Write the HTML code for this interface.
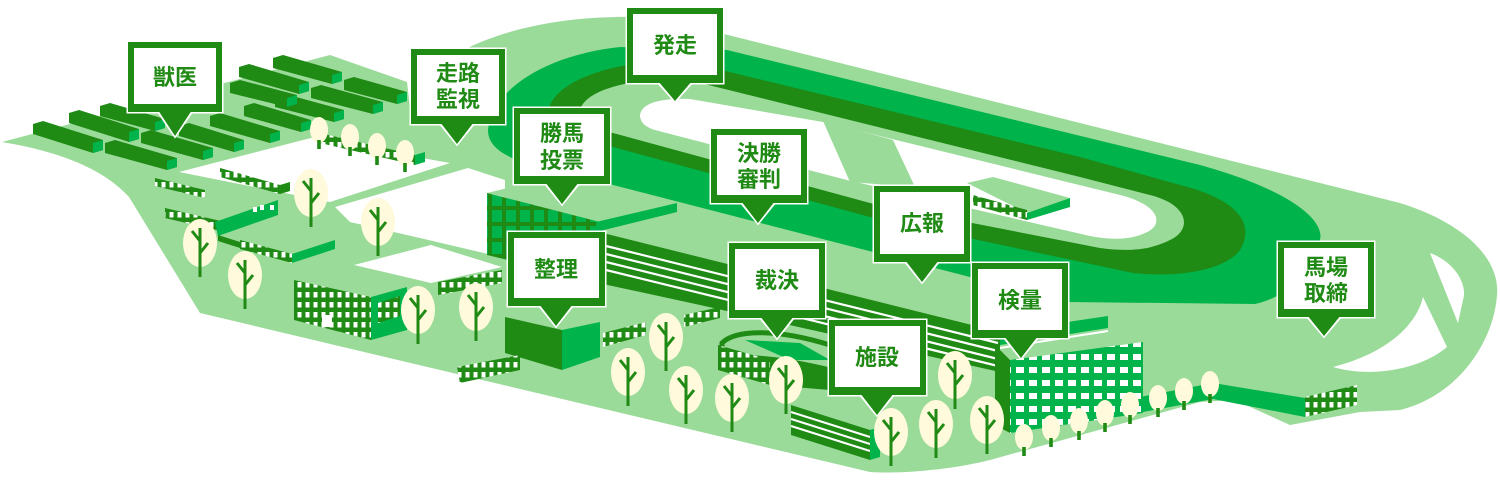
<!DOCTYPE html>
<html><head><meta charset="utf-8"><style>
html,body{margin:0;padding:0;background:#fff;width:1500px;height:480px;overflow:hidden}
svg{display:block}
text{font-family:"Liberation Sans","Noto Sans CJK JP",sans-serif;font-weight:bold;fill:#1f8a14;font-size:22px;text-anchor:middle}
</style></head><body>
<svg width="1500" height="480" viewBox="0 0 1500 480" xmlns="http://www.w3.org/2000/svg">
<defs>
<pattern id="win" patternUnits="userSpaceOnUse" width="8" height="10"><rect width="8" height="10" fill="#1f8a14"/><rect x="1.5" y="2" width="4" height="5.5" fill="#fff"/></pattern>
<pattern id="winb" patternUnits="userSpaceOnUse" width="13" height="13"><rect width="13" height="13" fill="#00b34a"/><rect x="2" y="3" width="8" height="6" fill="#fff"/></pattern>
<pattern id="grid" patternUnits="userSpaceOnUse" width="14" height="16"><rect width="14" height="16" fill="#1f8a14"/><rect x="2" y="2" width="10" height="12" fill="#00b34a"/></pattern>
<g id="T"><ellipse cx="0" cy="0" rx="17" ry="24" fill="#fffadb"/><path d="M0,-15 V34 M0,-2 L-8,-12 M0,10 L8,0" stroke="#1f8a14" stroke-width="3" fill="none"/></g>
<g id="t"><ellipse cx="0" cy="0" rx="9" ry="13" fill="#fffadb"/><rect x="-1.8" y="10" width="3.6" height="9" fill="#1f8a14"/></g>
</defs>

<path fill="#9bdb9a" d="M2,142 L330,55 L407,82 L411,117 C420,80 440,60 474,45 C530,20 600,14 660,18 L1400,203 C1470,225 1500,262 1497,295 C1494,340 1460,395 1400,410 L1360,412 L1290,425 L1235,400 L1200,402 L990,460 C950,470 900,474 870,472 L200,313 L129,197 C100,165 50,150 2,142 Z"/>
<path fill="#00b34a" d="M488,130 C492,90 545,55 620,47 L727,50 L1200,165 C1290,190 1325,220 1320,240 C1315,270 1290,296 1255,304 L1067,302 L613,185 C540,168 488,160 488,130 Z"/>
<path fill="#1f8a14" d="M548,112 C552,85 600,62 680,60 L1080,157 L1180,185 C1240,200 1255,225 1240,250 C1225,270 1180,278 1133,273 L870,217 L613,147 C570,137 548,127 548,112 Z"/>
<path fill="#9bdb9a" d="M580,110 C585,92 620,80 680,78 L1080,177 L1150,195 C1190,205 1192,230 1170,240 C1150,250 1130,252 1100,248 L870,203 L613,133 C590,128 580,120 580,110 Z"/>
<path fill="#fff" d="M640,115 C642,103 660,98 690,99 L823,122 L1120,195 C1160,205 1165,225 1145,233 C1130,240 1110,240 1090,236 L847,180 L655,130 C645,127 640,122 640,115 Z"/>
<polygon fill="#9bdb9a" points="823,121 893,140 915,187 850,182"/>
<path fill="#fff" d="M1430,253 C1455,262 1468,285 1463,300 L1458,323 Z"/>
<path fill="#fff" d="M1333,367 C1380,355 1415,330 1423,297 L1447,347 C1420,370 1370,378 1333,367 Z"/>
<polygon fill="#fff" points="179,172 311,138 450,163 330,202"/>
<polygon fill="#fff" points="335,207 468,168 505,180 505,258 420,238 350,222"/>
<polygon fill="#fff" points="354,265 431,245 502,267 431,283"/>
<polygon fill="#00b34a" points="1140,397 1213,383 1305,398 1305,417 1213,399 1143,412"/>

<g fill="#1f8a14">
<polygon points="33,124 43,121 103,140 103,150 93,153 33,134"/>
<polygon points="69,113 79,110 139,129 139,139 129,142 69,123"/>
<polygon points="100,106 110,103 165,119 165,128 155,131 100,116"/>
<polygon points="105,143 115,140 177,158 177,167 167,170 105,153"/>
<polygon points="141,133 151,130 213,148 213,157 203,160 141,143"/>
<polygon points="179,126 189,123 244,140 244,149 234,152 179,136"/>
<polygon points="210,116 220,113 280,131 280,140 270,143 210,126"/>
<polygon points="244,106 254,103 311,120 311,129 301,132 244,116"/>
<polygon points="230,83 240,80 297,95 297,104 287,107 230,93"/>
<polygon points="239,67 249,64 309,82 309,91 299,94 239,77"/>
<polygon points="273,58 283,55 342,72 342,81 332,84 273,68"/>
<polygon points="275,97 285,94 344,110 344,119 334,122 275,107"/>
<polygon points="311,88 321,85 383,102 383,111 373,114 311,98"/>
<polygon points="344,80 354,77 407,92 407,101 397,104 344,90"/>
</g>
<g fill="#00b34a">
<polygon points="93,143 103,140 103,150 93,153"/><polygon points="129,132 139,129 139,139 129,142"/><polygon points="155,122 165,119 165,128 155,131"/><polygon points="167,161 177,158 177,167 167,170"/><polygon points="203,151 213,148 213,157 203,160"/><polygon points="234,143 244,140 244,149 234,152"/><polygon points="270,134 280,131 280,140 270,143"/><polygon points="301,123 311,120 311,129 301,132"/><polygon points="287,98 297,95 297,104 287,107"/><polygon points="299,85 309,82 309,91 299,94"/><polygon points="332,75 342,72 342,81 332,84"/><polygon points="334,113 344,110 344,119 334,122"/><polygon points="373,105 383,102 383,111 373,114"/><polygon points="397,95 407,92 407,101 397,104"/>
</g>
<polygon fill="url(#win)" points="320,133 415,155 415,165 320,143"/>
<polygon fill="#00b34a" points="415,155 425,152 425,162 415,165"/>
<polygon fill="url(#win)" points="220,168 280,185 280,194 220,177"/><polygon fill="#1f8a14" points="280,185 290,182 290,191 280,194"/>
<polygon fill="url(#win)" points="155,178 205,190 205,198 155,186"/>
<polygon fill="url(#win)" points="165,208 225,222 225,232 165,218"/><polygon fill="#00b34a" points="215,222 278,200 278,215 218,236"/>
<rect x="253" y="207" width="4" height="5" fill="#fff"/><rect x="260" y="205" width="4" height="5" fill="#fff"/><rect x="270" y="205" width="4" height="5" fill="#fff"/>
<polygon fill="#1f8a14" points="218,235 240,242 240,248 218,241"/>
<polygon fill="url(#win)" points="240,240 292,254 292,263 240,249"/><polygon fill="#00b34a" points="292,254 335,240 335,249 292,263"/>
<polygon fill="url(#win)" points="294,280 371,297 371,340 294,320"/>
<rect x="322" y="315" width="10" height="12" fill="#fff"/>
<polygon fill="#00b34a" points="371,297 407,287 407,330 371,340"/>
<polygon fill="url(#win)" points="378,303 400,296 400,316 378,323"/>
<polygon fill="url(#win)" points="438,282 502,270 502,283 438,295"/>
<polygon fill="#9bdb9a" points="487,193 540,180 680,205 620,225"/>
<polygon fill="url(#grid)" points="487,193 600,222 600,282 487,255"/>
<polygon fill="#00b34a" points="596,222 677,203 677,212 596,232"/>
<polygon fill="#1f8a14" points="603,233 1000,332 1000,372 700,305 603,284"/>
<g stroke="#fff" stroke-width="2.2">
<line x1="606" y1="246" x2="998" y2="343"/><line x1="606" y1="254" x2="998" y2="351"/><line x1="606" y1="262" x2="998" y2="359"/><line x1="606" y1="270" x2="998" y2="366"/>
</g>
<polygon fill="#00b34a" points="1000,332 1108,316 1108,328 1000,345"/>
<line x1="1000" y1="348" x2="1108" y2="331" stroke="#fff" stroke-width="2"/>
<polygon fill="#1f8a14" points="505,317 562,330 562,370 505,353"/>
<polygon fill="#00b34a" points="562,330 600,322 600,357 562,370"/>
<polygon fill="url(#win)" points="457,367 520,355 520,370 460,383"/>
<polygon fill="url(#win)" points="603,333 646,322 646,335 603,347"/>
<polygon fill="url(#win)" points="684,315 720,307 720,318 684,327"/>
<path fill="#9bdb9a" stroke="#1f8a14" stroke-width="5" d="M722,343 C735,330 775,328 830,345 L830,370 C780,358 740,355 722,360 Z"/>
<polygon fill="#00b34a" points="745,340 800,343 830,360 790,360"/>
<polygon fill="url(#win)" points="718,345 770,360 770,385 718,370"/>
<polygon fill="#1f8a14" points="770,360 830,372 830,390 770,385"/>
<polygon fill="#1f8a14" points="791,405 870,430 870,460 791,435"/>
<g stroke="#fff" stroke-width="2"><line x1="791" y1="412" x2="870" y2="437"/><line x1="791" y1="419" x2="870" y2="444"/><line x1="791" y1="426" x2="870" y2="451"/></g>
<polygon fill="#00b34a" points="870,430 880,427 880,457 870,460"/>
<polygon fill="#1f8a14" points="995,345 1010,360 1010,433 995,425"/>
<polygon fill="url(#winb)" points="1010,360 1143,342 1143,413 1010,433"/>
<polygon fill="#9bdb9a" points="967,183 993,177 1070,198 1027,213"/>
<polygon fill="url(#win)" points="973,195 1027,210 1027,220 973,205"/>
<polygon fill="#00b34a" points="1027,213 1070,198 1070,207 1027,220"/>
<polygon fill="url(#win)" points="1305,397 1357,385 1357,405 1305,417"/>

<use href="#t" x="319" y="130"/><use href="#t" x="350" y="137"/><use href="#t" x="377" y="146"/><use href="#t" x="405" y="153"/>
<use href="#T" x="311" y="193"/><use href="#T" x="378" y="222"/><use href="#T" x="200" y="243"/><use href="#T" x="245" y="275"/>
<use href="#T" x="418" y="310"/><use href="#T" x="476" y="307"/>
<use href="#T" x="666" y="337"/><use href="#T" x="628" y="372"/><use href="#T" x="686" y="390"/><use href="#T" x="732" y="398"/><use href="#T" x="786" y="380"/>
<use href="#T" x="955" y="375"/><use href="#T" x="891" y="432"/><use href="#T" x="936" y="424"/><use href="#T" x="987" y="420"/>
<use href="#t" x="1024" y="437"/><use href="#t" x="1051" y="428"/><use href="#t" x="1079" y="421"/><use href="#t" x="1105" y="413"/><use href="#t" x="1130" y="405"/><use href="#t" x="1158" y="398"/><use href="#t" x="1184" y="391"/><use href="#t" x="1210" y="384"/>

<g fill="#1f8a14" stroke="#fff" stroke-width="3">
<rect x="128" y="42" width="94" height="70"/><polygon points="158,111 192,111 175,136"/>
<rect x="411" y="49" width="94" height="75"/><polygon points="440,123 474,123 457,144"/>
<rect x="627" y="8" width="96" height="75"/><polygon points="658,82 692,82 675,101"/>
<rect x="514" y="108" width="96" height="76"/><polygon points="545,183 579,183 562,204"/>
<rect x="711" y="129" width="96" height="74"/><polygon points="741,202 775,202 758,223"/>
<rect x="874" y="186" width="96" height="76"/><polygon points="905,261 939,261 922,282"/>
<rect x="508" y="232" width="97" height="74"/><polygon points="539,305 573,305 556,326"/>
<rect x="729" y="243" width="96" height="75"/><polygon points="760,317 794,317 777,338"/>
<rect x="829" y="320" width="97" height="75"/><polygon points="860,394 894,394 877,415"/>
<rect x="972" y="263" width="96" height="75"/><polygon points="1004,337 1038,337 1021,358"/>
<rect x="1278" y="242" width="96" height="75"/><polygon points="1307,316 1341,316 1324,336"/>
</g>
<g fill="#1f8a14">
<rect x="128" y="42" width="94" height="70"/><polygon points="158,110 192,110 175,136"/>
<rect x="411" y="49" width="94" height="75"/><polygon points="440,122 474,122 457,144"/>
<rect x="627" y="8" width="96" height="75"/><polygon points="658,81 692,81 675,101"/>
<rect x="514" y="108" width="96" height="76"/><polygon points="545,182 579,182 562,204"/>
<rect x="711" y="129" width="96" height="74"/><polygon points="741,201 775,201 758,223"/>
<rect x="874" y="186" width="96" height="76"/><polygon points="905,260 939,260 922,282"/>
<rect x="508" y="232" width="97" height="74"/><polygon points="539,304 573,304 556,326"/>
<rect x="729" y="243" width="96" height="75"/><polygon points="760,316 794,316 777,338"/>
<rect x="829" y="320" width="97" height="75"/><polygon points="860,393 894,393 877,415"/>
<rect x="972" y="263" width="96" height="75"/><polygon points="1004,336 1038,336 1021,358"/>
<rect x="1278" y="242" width="96" height="75"/><polygon points="1307,315 1341,315 1324,336"/>
</g>
<g fill="#fff">
<rect x="134" y="48" width="82" height="56"/>
<rect x="417" y="55" width="82" height="61"/>
<rect x="633" y="14" width="84" height="61"/>
<rect x="520" y="114" width="84" height="62"/>
<rect x="717" y="135" width="84" height="60"/>
<rect x="880" y="192" width="84" height="62"/>
<rect x="514" y="238" width="85" height="60"/>
<rect x="735" y="249" width="84" height="61"/>
<rect x="835" y="326" width="85" height="61"/>
<rect x="978" y="269" width="84" height="61"/>
<rect x="1284" y="248" width="84" height="61"/>
</g>
<text x="175" y="85">獣医</text>
<text x="458" y="81">走路</text><text x="458" y="107">監視</text>
<text x="675" y="53">発走</text>
<text x="562" y="141">勝馬</text><text x="562" y="168">投票</text>
<text x="759" y="161">決勝</text><text x="759" y="187">審判</text>
<text x="922" y="231">広報</text>
<text x="556" y="277">整理</text>
<text x="777" y="288">裁決</text>
<text x="877" y="365">施設</text>
<text x="1020" y="308">検量</text>
<text x="1326" y="275">馬場</text><text x="1326" y="301">取締</text>
</svg>
</body></html>
